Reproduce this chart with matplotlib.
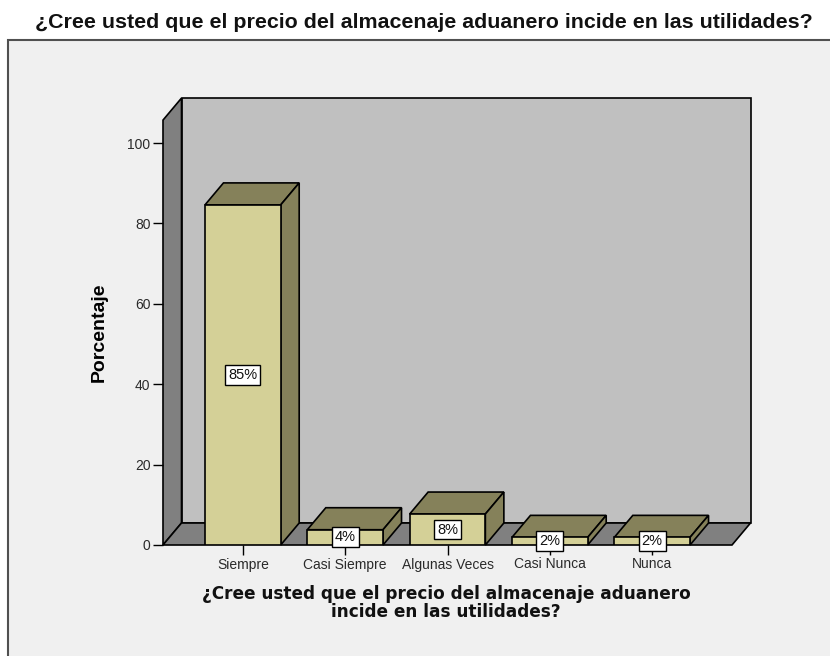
import matplotlib
matplotlib.use("Agg")
import matplotlib.pyplot as plt
from matplotlib.patches import Rectangle

# datos de la encuesta (porcentaje sobre 52 respuestas)
categorias = ["Siempre", "Casi Siempre", "Algunas Veces", "Casi Nunca", "Nunca"]
porcentajes = [84.6, 3.8, 7.7, 1.9, 1.9]
etiquetas = ["85%", "4%", "8%", "2%", "2%"]
yticks = [0, 20, 40, 60, 80, 100]

titulo = "¿Cree usted que el precio del almacenaje aduanero incide en las utilidades?"
xtitulo = "¿Cree usted que el precio del almacenaje aduanero\nincide en las utilidades?"
ytitulo = "Porcentaje"

W, H = 830, 656
fondo = "#f0f0f0"
pared = "#c0c0c0"
lateral = "#808080"
frente = "#d4d097"
techo = "#85815a"

plt.rcParams["font.family"] = ["Liberation Sans", "DejaVu Sans"]

fig = plt.figure(figsize=(W / 100, H / 100), dpi=100)
fig.patch.set_facecolor("white")

# marco gris del grafico
fig.patches.append(Rectangle((8 / W, 0 - 0.05), 1.0, 1 - 40 / H + 0.05,
                             transform=fig.transFigure, facecolor=fondo,
                             edgecolor="#505050", linewidth=1.5, zorder=-5))

fig.text(424 / W, 1 - 23 / H, titulo, ha="center", va="center",
         fontsize=15.4, fontweight="bold", color="#111111")

# ejes: plano frontal
x0, x1 = -0.78, 4.78
ytop = 105.7
left, right = 163, 732
bottom_px = 545
px_y = 4.02
ax = fig.add_axes([left / W, 1 - bottom_px / H, (right - left) / W, ytop * px_y / H])
ax.set_xlim(x0, x1)
ax.set_ylim(0, ytop)
ax.set_facecolor("none")

# profundidad en unidades de datos
dx = 18.5 / ((right - left) / (x1 - x0))
dy = 22 / px_y
lw = 1.2

# pared del fondo, pared izquierda y piso
ax.fill([x0 + dx, x1 + dx, x1 + dx, x0 + dx], [dy, dy, ytop + dy, ytop + dy],
        facecolor=pared, edgecolor="black", linewidth=lw, zorder=1, clip_on=False)
ax.fill([x0, x0 + dx, x0 + dx, x0], [0, dy, ytop + dy, ytop],
        facecolor=lateral, edgecolor="black", linewidth=lw, zorder=1, clip_on=False)
ax.fill([x0, x1, x1 + dx, x0 + dx], [0, 0, dy, dy],
        facecolor=lateral, edgecolor="black", linewidth=lw, zorder=1, clip_on=False)

ancho = 0.74
pos = list(range(len(categorias)))
for i, v in zip(pos, porcentajes):
    a, b = i - ancho / 2, i + ancho / 2
    ax.fill([a, b, b + dx, a + dx], [v, v, v + dy, v + dy],
            facecolor=techo, edgecolor="black", linewidth=lw, zorder=2, clip_on=False)
    ax.fill([b, b + dx, b + dx, b], [0, dy, v + dy, v],
            facecolor=techo, edgecolor="black", linewidth=lw, zorder=2, clip_on=False)
ax.bar(pos, porcentajes, width=ancho, color=frente, edgecolor="black",
       linewidth=lw, zorder=3)

for i, v, t in zip(pos, porcentajes, etiquetas):
    ax.text(i, v / 2, t, ha="center", va="center", fontsize=10.5, color="#111111",
            zorder=5, bbox=dict(boxstyle="square,pad=0.2", facecolor="white",
                                edgecolor="black", linewidth=1))

for s in ["top", "right", "left", "bottom"]:
    ax.spines[s].set_visible(False)

ax.set_yticks(yticks)
ax.set_xticks(pos)
ax.set_xticklabels(categorias)
ax.tick_params(axis="both", direction="out", length=7, width=1, color="black",
               labelsize=10, labelcolor="#2a2a2a", pad=2)
ax.tick_params(axis="x", pad=2)

ax.set_ylabel(ytitulo, fontsize=14, fontweight="bold")
ax.yaxis.set_label_coords((108 - left) / (right - left), (bottom_px - 332) / (ytop * px_y))

fig.text(446 / W, 1 - 603 / H, xtitulo, ha="center", va="center",
         fontsize=12.2, fontweight="bold", family="DejaVu Sans",
         linespacing=1.0, color="#111111")

fig.savefig("out.png", dpi=100)
